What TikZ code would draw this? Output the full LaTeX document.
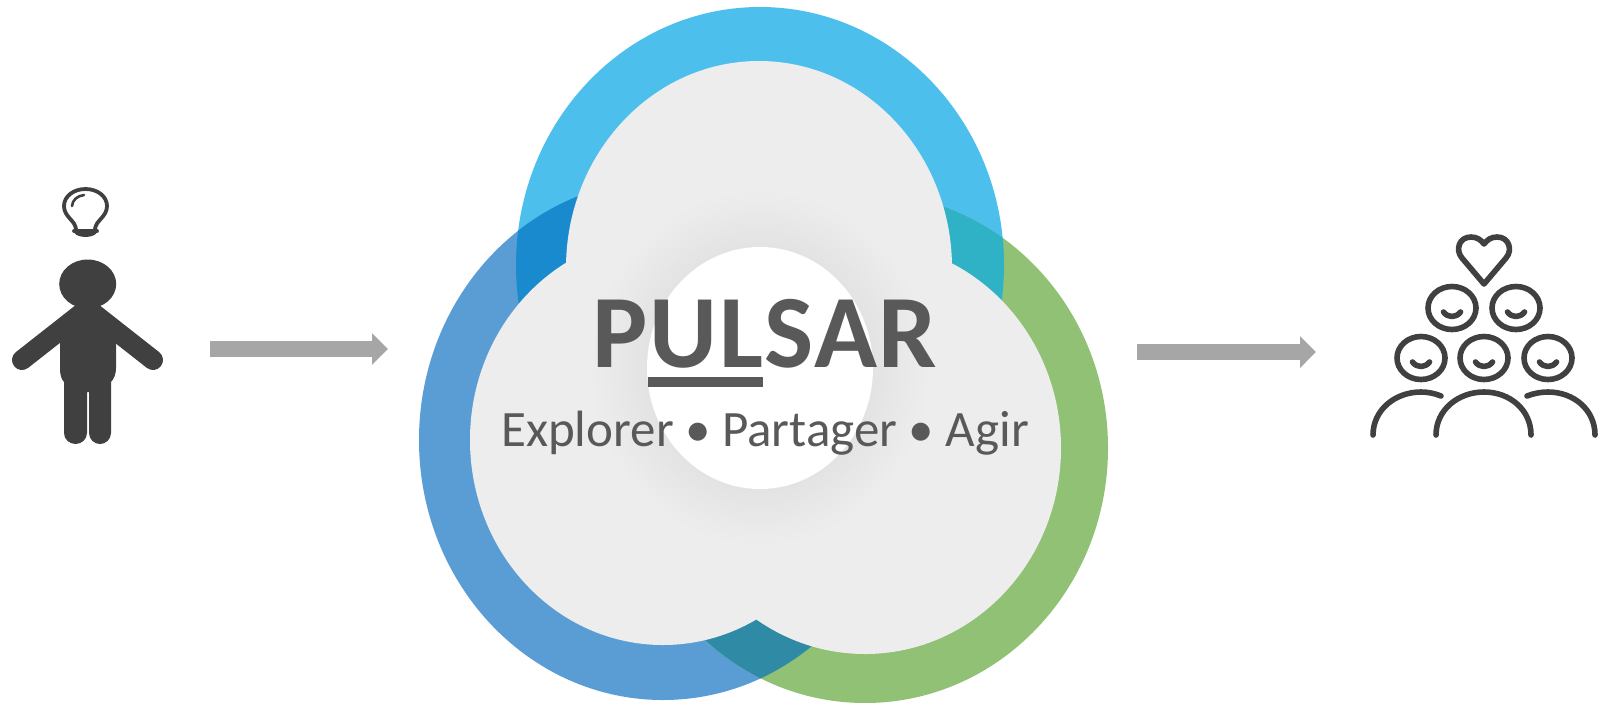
\documentclass[tikz,border=0pt]{standalone}
\usepackage{fontspec}
\setmainfont{Carlito}
\usetikzlibrary{arrows.meta}
\definecolor{ringtop}{HTML}{4DBFEC}
\definecolor{ringleft}{HTML}{5A9DD5}
\definecolor{ringright}{HTML}{90C175}
\definecolor{lapTL}{HTML}{1A8ACF}
\definecolor{lapTR}{HTML}{2FB1C6}
\definecolor{lapLR}{HTML}{2F8AA6}
\definecolor{core}{HTML}{EDEDED}
\definecolor{ink}{HTML}{404040}
\definecolor{txt}{HTML}{595959}
\definecolor{flow}{HTML}{A6A6A6}
\tikzset{
  flowarrow/.style={draw=flow,line width=16pt,-{Triangle[length=16pt,width=31pt,color=flow]}},
  icon/.style={draw=ink,line width=5.6pt,line cap=round,line join=round},
  bulbline/.style={draw=ink,line width=3.8pt,line cap=round,line join=round},
  outerT/.style={insert path={(760,265) ellipse [x radius=244pt,y radius=258pt]}},
  outerL/.style={insert path={(663,440) ellipse [x radius=244pt,y radius=260pt]}},
  outerR/.style={insert path={(865,448) ellipse [x radius=243pt,y radius=255pt]}},
  innerT/.style={insert path={(759,268) ellipse [x radius=193pt,y radius=207pt]}},
  innerL/.style={insert path={(663,440) ellipse [x radius=193pt,y radius=205pt]}},
  innerR/.style={insert path={(865,448) ellipse [x radius=196pt,y radius=206pt]}},
}
\newcommand{\crowdface}[2]{%
  \draw[icon] (#1,#2) ellipse [x radius=24pt,y radius=21.5pt];
  \draw[icon] (#1-8.5,#2+4) .. controls (#1-4,#2+10) and (#1+4,#2+10) .. (#1+8.5,#2+4);
}
\begin{document}
\begin{tikzpicture}[x=1pt,y=-1pt]
\useasboundingbox (0,0) rectangle (1598,702);
% rings
\fill[ringtop,outerT];
\fill[ringleft,outerL];
\fill[ringright,outerR];
\begin{scope}\clip[outerT];\fill[lapTL,outerL];\fill[lapTR,outerR];\end{scope}
\begin{scope}\clip[outerL];\fill[lapLR,outerR];\end{scope}
% inner area
\fill[core,innerT];
\fill[core,innerL];
\fill[core,innerR];
% halo and centre
\foreach \i in {0,...,19}{
  \pgfmathsetmacro{\grow}{60-3*\i}
  \pgfmathsetmacro{\shadeval}{7+0.2*\i}
  \fill[black!\shadeval!white] (760,368) ellipse [x radius=113pt+\grow pt,y radius=121pt+\grow pt];
}
\fill[white] (760,368) ellipse [x radius=113pt,y radius=121pt];
% title
\node[anchor=base,inner sep=0,text=txt,font=\fontsize{104}{104}\selectfont\bfseries\addfontfeatures{LetterSpace=1.5}] (title) at (765,367) {PULSAR};
\fill[txt] (648,377) rectangle (763,387);
\node[anchor=base,inner sep=0,text=txt,font=\fontsize{51}{51}\selectfont] (motto) at (765,446) {Explorer • Partager • Agir};
% arrows
\coordinate (flowAa) at (210,349);
\coordinate (flowAb) at (388,349);
\coordinate (flowBa) at (1137,352);
\coordinate (flowBb) at (1316,352);
\draw[flowarrow] (flowAa) -- (flowAb);
\draw[flowarrow] (flowBa) -- (flowBb);
% person
\draw[ink,line width=20pt,line cap=round] (22,360) -- (85,310.5);
\draw[ink,line width=20pt,line cap=round] (153,360) -- (90,310.5);
\fill[ink] (87.7,284) ellipse [x radius=28.5pt,y radius=24.5pt];
\fill[ink] (72,312) -- (103,312) -- (116,325) -- (116,368) .. controls (116,374) and (114,379) .. (111,382)
  -- (111,433) arc [start angle=0,end angle=180,radius=11pt,y radius=-11pt] -- (89,392) -- (87,392)
  -- (87,433) arc [start angle=0,end angle=180,radius=11.5pt,y radius=-11pt] -- (64,382)
  .. controls (61,379) and (60,374) .. (60,368) -- (60,325) -- cycle;
% bulb
\draw[bulbline] (76,229) .. controls (75,220) and (64,217) .. (64,206)
  .. controls (64,196) and (74,189) .. (85.5,189)
  .. controls (97,189) and (107,196) .. (107,206)
  .. controls (107,217) and (96,220) .. (95,229);
\draw[bulbline] (74,231) -- (97,231);
\draw[bulbline] (76,232) .. controls (79,236) and (92,236) .. (95,232);
\draw[bulbline,line width=2.6pt] (72,206) .. controls (72.5,200) and (77,196) .. (84,195);
% crowd
\draw[icon] (1484,284) -- (1462,258)
  .. controls (1455,250) and (1459,237) .. (1471,237)
  .. controls (1477,237) and (1481,240) .. (1484,244)
  .. controls (1487,240) and (1491,237) .. (1497,237)
  .. controls (1509,237) and (1513,250) .. (1506,258) -- cycle;
\crowdface{1452}{308}
\crowdface{1516}{308}
\crowdface{1421}{358}
\crowdface{1484}{358}
\crowdface{1548}{358}
\draw[icon] (1373,435) .. controls (1373,410) and (1395,392) .. (1421,392) .. controls (1428,392) and (1435,393.5) .. (1441,396);
\draw[icon] (1436,435) .. controls (1436,410) and (1458,392) .. (1484,392) .. controls (1510,392) and (1531,410) .. (1531,435);
\draw[icon] (1527,396) .. controls (1533,393.5) and (1541,392) .. (1548,392) .. controls (1574,392) and (1595,410) .. (1595,435);
\end{tikzpicture}
\end{document}
